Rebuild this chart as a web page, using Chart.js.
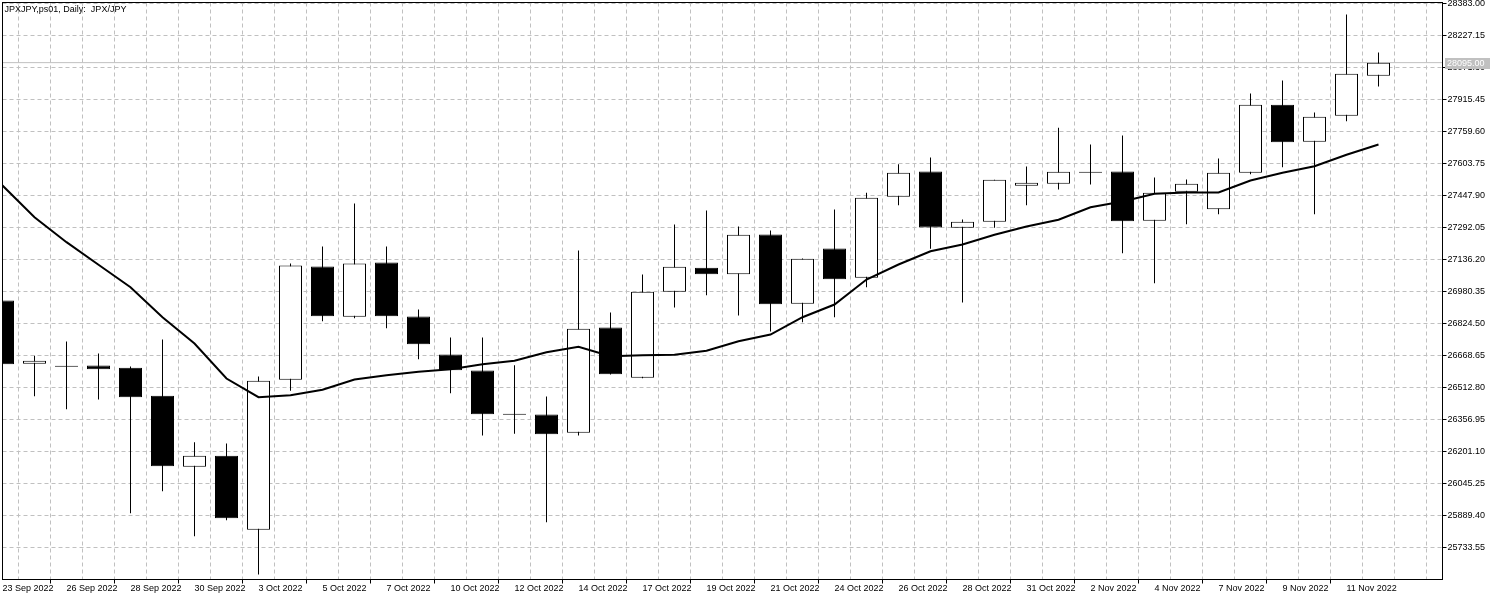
<!DOCTYPE html>
<html>
<head>
<meta charset="utf-8">
<script src="https://cdn.jsdelivr.net/npm/chart.js@4.4.0/dist/chart.umd.min.js"></script>
<style>html,body{margin:0;padding:0;background:#fff;overflow:hidden}canvas{display:block}</style>
</head>
<body>
<canvas id="c" width="1500" height="600"></canvas>
<script>
const chartTitle = 'JPXJPY,ps01, Daily:  JPX/JPY';
const dates = ['23 Sep 2022','25 Sep 2022','26 Sep 2022','27 Sep 2022','28 Sep 2022','29 Sep 2022','30 Sep 2022',
  '2 Oct 2022','3 Oct 2022','4 Oct 2022','5 Oct 2022','6 Oct 2022','7 Oct 2022',
  '9 Oct 2022','10 Oct 2022','11 Oct 2022','12 Oct 2022','13 Oct 2022','14 Oct 2022',
  '16 Oct 2022','17 Oct 2022','18 Oct 2022','19 Oct 2022','20 Oct 2022','21 Oct 2022',
  '23 Oct 2022','24 Oct 2022','25 Oct 2022','26 Oct 2022','27 Oct 2022','28 Oct 2022',
  '30 Oct 2022','31 Oct 2022','1 Nov 2022','2 Nov 2022','3 Nov 2022','4 Nov 2022',
  '6 Nov 2022','7 Nov 2022','8 Nov 2022','9 Nov 2022','10 Nov 2022','11 Nov 2022','13 Nov 2022'];
const opens  = [26936.5,26628.2,26613.6,26619.9,26608.7,26472.4,26126.6,26180.2,25819.8,26550.3,27102.1,26857.1,27121.6,
  26858.6,26673.5,26595.6,26379.8,26381.3,26292.2,26805.0,26560.1,26978.9,27095.8,27064.6,27258.0,26920.4,27189.8,
  27047.1,27441.6,27564.8,27290.6,27319.8,27495.1,27504.9,27558.5,27564.8,27324.7,27465.9,27381.2,27558.5,27889.6,
  27709.4,27836.1,28030.9];
const highs  = [26951.1,26667.2,26736.8,26678.4,26615.1,26746.6,26246.4,26240.1,26566.4,27116.7,27199.5,27408.9,27199.5,
  26892.7,26756.3,26756.3,26621.4,26469.0,27180.0,26878.1,27063.1,27306.7,27374.8,27296.9,27277.4,27141.0,27379.7,
  27461.1,27600.3,27633.0,27331.0,27524.4,27589.1,27777.6,27696.3,27740.1,27535.6,27525.8,27628.1,27944.7,28008.0,
  27852.1,28329.4,28144.4];
const lows   = [26605.3,26470.4,26407.1,26454.4,25900.6,26007.7,25788.6,25866.5,25602.1,26496.7,26835.7,26850.0,26801.6,
  26650.6,26485.0,26279.0,26287.3,25856.8,26279.0,26576.0,26558.0,26902.4,26962.3,26863.5,26785.5,26830.8,26855.2,
  27001.3,27400.7,27188.3,26926.8,27290.6,27400.7,27477.1,27501.5,27166.9,27020.8,27308.1,27356.8,27551.6,27585.7,
  27356.8,27809.8,27978.8];
const closes = [26626.3,26642.8,26613.6,26601.9,26465.6,26129.5,26180.2,25876.2,26545.4,27107.0,26860.1,27116.7,26860.1,
  26723.7,26597.1,26382.8,26379.8,26285.4,26798.7,26577.6,26978.9,27100.6,27064.6,27256.5,26918.5,27139.6,27040.3,
  27436.7,27558.5,27292.1,27319.8,27524.4,27509.8,27563.3,27558.5,27322.7,27461.1,27504.9,27558.5,27889.6,27707.5,
  27831.2,28040.6,28095.0];
const maValues = [27496.6,27342.2,27220.5,27110.4,27001.3,26855.2,26727.1,26556.6,26465.6,26475.3,26501.6,26551.8,26573.0,
  26589.3,26601.9,26626.3,26642.8,26684.7,26711.0,26665.2,26670.1,26672.0,26691.5,26738.3,26770.9,26855.2,26917.0,
  27038.8,27111.9,27176.6,27209.3,27256.5,27296.9,27329.6,27390.9,27418.7,27456.2,27462.5,27462.5,27521.0,27558.5,
  27590.6,27646.1,27696.3];
const yTickValues = [28383.00,28227.15,28071.30,27915.45,27759.60,27603.75,27447.90,27292.05,27136.20,26980.35,
  26824.50,26668.65,26512.80,26356.95,26201.10,26045.25,25889.40,25733.55];
const currentPrice = 28095.00;
const yMin = 25577.70, yMax = 28387.87;
const xMin = 0, xMax = 45;

Chart.defaults.font.family = "'Liberation Sans', Arial, sans-serif";
Chart.defaults.font.size = 9;
Chart.defaults.color = '#000';

const idx = dates.map((d, i) => i);
const bodyData = idx.map(i => ({x: i, y: [opens[i], closes[i]]}));
const wickData = idx.map(i => ({x: i, y: [lows[i], highs[i]]}));
const maData = idx.map(i => ({x: i, y: maValues[i]}));
const priceData = [{x: xMin, y: currentPrice}, {x: xMax, y: currentPrice}];
const gridColor = '#c0c0c0';

const overlay = {
  id: 'overlay',
  beforeDraw(chart) {
    const c = chart.ctx; c.save(); c.fillStyle = '#fff'; c.fillRect(0, 0, chart.width, chart.height); c.restore();
  },
  afterDatasetsDraw(chart) {
    const {ctx, chartArea: a} = chart;
    ctx.save(); ctx.strokeStyle = '#000'; ctx.lineWidth = 1;
    ctx.strokeRect(a.left, a.top, a.right - a.left, a.bottom - a.top);
    ctx.restore();
  },
  afterDraw(chart) {
    const {ctx, chartArea: a, scales: {y}} = chart;
    ctx.save();
    ctx.font = "9px 'Liberation Sans'";
    ctx.fillStyle = '#000'; ctx.textBaseline = 'top'; ctx.textAlign = 'left';
    ctx.fillText(chartTitle, a.left + 2, a.top + 3);
    const py = Math.round(y.getPixelForValue(currentPrice));
    ctx.fillStyle = '#c0c0c0';
    ctx.fillRect(a.right + 2.5, py - 5, 45, 11);
    ctx.fillStyle = '#fff'; ctx.textBaseline = 'middle';
    ctx.fillText(currentPrice.toFixed(2), a.right + 4.5, py + 0.5);
    ctx.restore();
  }
};

new Chart(document.getElementById('c'), {
  data: {
    datasets: [
      {type: 'line', label: 'MA', data: maData, borderColor: '#000', borderWidth: 2, pointRadius: 0, tension: 0, fill: false, order: 0},
      {type: 'bar', label: 'Body', data: bodyData,
        backgroundColor: c => (closes[c.dataIndex] >= opens[c.dataIndex] ? '#fff' : '#000'),
        borderColor: '#000', borderWidth: 1, borderSkipped: false, barThickness: 23, grouped: false,
        minBarLength: 1, inflateAmount: 0, clip: 0, order: 1},
      {type: 'bar', label: 'Wick', data: wickData, backgroundColor: '#000', borderWidth: 0,
        barThickness: 1, grouped: false, inflateAmount: 0, clip: 0, order: 2},
      {type: 'line', label: 'Price', data: priceData, borderColor: '#c0c0c0', borderWidth: 1, pointRadius: 0, order: 3}
    ]
  },
  options: {
    responsive: false, animation: false, devicePixelRatio: 1,
    layout: {padding: {left: 2.5, top: 2.5, right: 0, bottom: 0}},
    plugins: {legend: {display: false}, tooltip: {enabled: false}},
    scales: {
      x: {
        type: 'linear', position: 'bottom', min: xMin, max: xMax, offset: false,
        afterBuildTicks: s => { const t = []; for (let v = xMin; v <= xMax; v++) t.push({value: v}); s.ticks = t; },
        afterFit: s => { s.height = 20.5; s.paddingLeft = 0; s.paddingRight = 0; },
        grid: {color: gridColor, lineWidth: 1, drawTicks: true, tickLength: 4, tickWidth: 1,
          tickColor: c => (c.tick && c.tick.value % 2 === 0 && dates[c.tick.value]) ? '#000' : 'rgba(0,0,0,0)'},
        border: {display: true, color: '#000', width: 1, dash: [4, 3]},
        ticks: {autoSkip: false, maxRotation: 0, minRotation: 0, align: 'start', padding: 0,
          callback: v => (v % 2 === 0 && dates[v]) ? dates[v] : ''}
      },
      y: {
        type: 'linear', position: 'right', min: yMin, max: yMax,
        afterBuildTicks: s => { s.ticks = yTickValues.map(v => ({value: v})); },
        afterFit: s => { s.width = 57.5; s.paddingTop = 0; s.paddingBottom = 0; },
        grid: {color: gridColor, lineWidth: 1, tickLength: 4, tickColor: '#000'},
        border: {display: true, color: '#000', width: 1, dash: [4, 3]},
        ticks: {autoSkip: false, padding: 1, callback: v => v.toFixed(2)}
      }
    }
  },
  plugins: [overlay]
});
</script>
</body>
</html>
